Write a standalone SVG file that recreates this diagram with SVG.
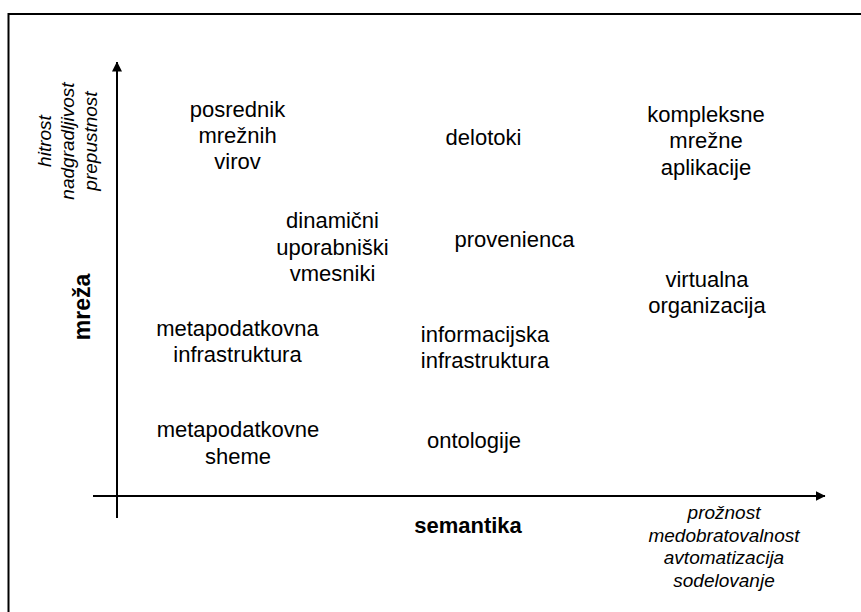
<svg xmlns="http://www.w3.org/2000/svg" width="861" height="612" viewBox="0 0 861 612">
  <style>
    .n { font-family: "Liberation Sans", Arial, sans-serif; font-size: 22px; fill: #000; text-anchor: middle; }
    .ax { font-family: "Liberation Sans", Arial, sans-serif; font-weight: bold; fill: #000; text-anchor: middle; }
    .it { font-family: "Liberation Sans", Arial, sans-serif; font-style: italic; font-size: 19px; fill: #000; text-anchor: middle; }
    .axis { stroke: #000; stroke-width: 2; fill: none; }
  </style>
  <defs>
    <marker id="arr" markerUnits="userSpaceOnUse" markerWidth="10" markerHeight="10" refX="9.5" refY="5" orient="auto">
      <path d="M0,0 L10,5 L0,10 z" fill="#000"/>
    </marker>
  </defs>
  <rect x="0" y="0" width="861" height="612" fill="#fff"/>
  <rect x="8.5" y="14" width="870" height="620" fill="none" stroke="#000" stroke-width="2"/>

  <g id="connectors">
    <line class="axis" x1="117" y1="518" x2="117" y2="62" marker-end="url(#arr)"/>
    <line class="axis" x1="93" y1="496" x2="825" y2="496" marker-end="url(#arr)"/>
  </g>

  <g id="axis-y-label">
    <text class="ax" font-size="23" transform="translate(90,307) rotate(-90)">mreža</text>
    <text class="it" transform="translate(51,141) rotate(-90)">hitrost</text>
    <text class="it" transform="translate(74,141) rotate(-90)">nadgradljivost</text>
    <text class="it" transform="translate(97,141) rotate(-90)">prepustnost</text>
  </g>

  <g id="axis-x-label">
    <text class="ax" font-size="22" x="468" y="533">semantika</text>
    <text class="it" x="724" y="519">prožnost</text>
    <text class="it" x="724" y="541.5">medobratovalnost</text>
    <text class="it" x="724" y="563.5">avtomatizacija</text>
    <text class="it" x="724" y="586.5">sodelovanje</text>
  </g>

  <g id="posrednik">
    <text class="n" x="237.5" y="117">posrednik</text>
    <text class="n" x="237.5" y="143">mrežnih</text>
    <text class="n" x="237.5" y="169">virov</text>
  </g>
  <g id="dinamicni">
    <text class="n" x="332.5" y="228">dinamični</text>
    <text class="n" x="332.5" y="255">uporabniški</text>
    <text class="n" x="332.5" y="281">vmesniki</text>
  </g>
  <g id="metapodatkovna">
    <text class="n" x="237.5" y="336">metapodatkovna</text>
    <text class="n" x="237.5" y="362">infrastruktura</text>
  </g>
  <g id="metapodatkovne">
    <text class="n" x="238" y="437">metapodatkovne</text>
    <text class="n" x="238" y="464">sheme</text>
  </g>
  <g id="delotoki">
    <text class="n" x="483.5" y="145">delotoki</text>
  </g>
  <g id="provenienca">
    <text class="n" x="514.5" y="247">provenienca</text>
  </g>
  <g id="informacijska">
    <text class="n" x="485" y="342">informacijska</text>
    <text class="n" x="485" y="368">infrastruktura</text>
  </g>
  <g id="ontologije">
    <text class="n" x="474" y="448">ontologije</text>
  </g>
  <g id="kompleksne">
    <text class="n" x="706" y="122">kompleksne</text>
    <text class="n" x="706" y="148">mrežne</text>
    <text class="n" x="706" y="175">aplikacije</text>
  </g>
  <g id="virtualna">
    <text class="n" x="707" y="287">virtualna</text>
    <text class="n" x="707" y="313">organizacija</text>
  </g>
</svg>
